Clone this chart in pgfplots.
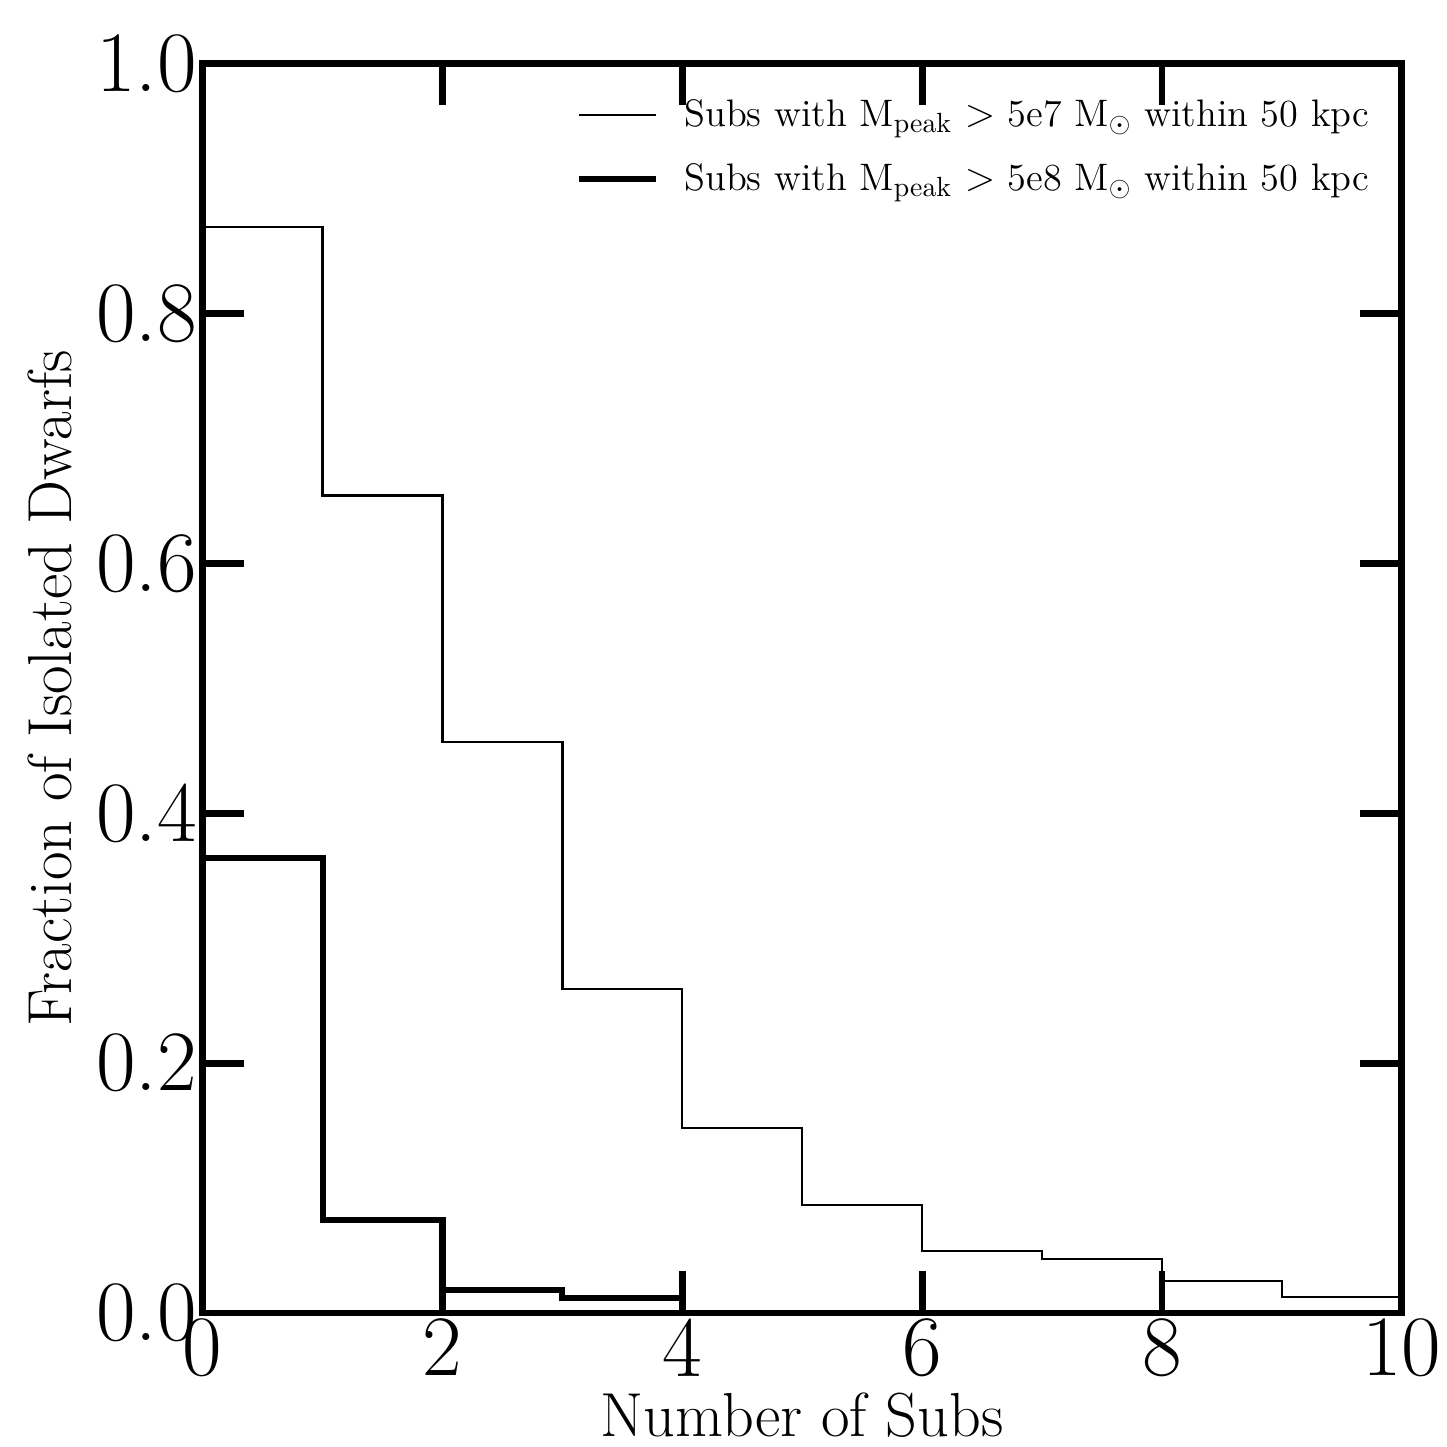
\documentclass[border=0pt]{standalone}
\usepackage{pgfplots}
\pgfplotsset{compat=1.18}

\begin{document}
\begin{tikzpicture}
\begin{axis}[
  scale only axis, width=432pt, height=450pt,
  xmin=0, xmax=10, ymin=0, ymax=1,
  xtick={0,2,4,6,8,10},
  ytick={0,0.2,0.4,0.6,0.8,1.0},
  minor tick num=0,
  tick align=inside,
  major tick length=15pt,
  every tick/.style={black, line width=2.5pt},
  axis line style={line width=2.5pt},
  /pgf/number format/assume math mode=true,
  tick label style={font=\fontsize{31}{36}\selectfont},
  yticklabel style={/pgf/number format/.cd, fixed, fixed zerofill, precision=1, /tikz/.cd, inner sep=2pt},
  xticklabel style={inner sep=2pt},
  xlabel={Number of Subs},
  ylabel={Fraction of Isolated Dwarfs},
  xlabel style={at={(axis description cs:0.5,-0.082)}, anchor=center, font=\fontsize{22.4}{26}\selectfont},
  ylabel style={at={(axis description cs:-0.127,0.5)}, anchor=center, rotate=0, font=\fontsize{22.4}{26}\selectfont},
  legend style={draw=none, fill=none, at={(axis description cs:0.985,0.981)}, anchor=north east,
    font=\fontsize{13.8}{16}\selectfont, row sep=8pt, nodes={inner sep=2pt},
    /tikz/every odd column/.append style={column sep=7pt}},
  legend cell align=left,
  legend image code/.code={\draw[#1] (0pt,0pt) -- (28pt,0pt);},
]
\addplot[const plot, black, line width=0.8pt] coordinates {
  (0,0.8696) (1,0.6544) (2,0.4568) (3,0.2592) (4,0.1480) (5,0.0864)
  (6,0.0496) (7,0.0432) (8,0.0256) (9,0.0128) (10,0.0128)};
\addlegendentry{Subs with M$_{\rm peak}$ $>$ 5e7 M$_\odot$ within 50 kpc}
\addplot[const plot, black, line width=2.2pt] coordinates {
  (0,0.364) (1,0.0744) (2,0.0184) (3,0.0120) (4,0)};
\addlegendentry{Subs with M$_{\rm peak}$ $>$ 5e8 M$_\odot$ within 50 kpc}
\end{axis}
\path (current axis.south west) ++(-73pt,-46pt) coordinate (bbA);
\path (current axis.north east) ++(15pt,23pt) coordinate (bbB);
\useasboundingbox (bbA) rectangle (bbB);
\end{tikzpicture}
\end{document}
